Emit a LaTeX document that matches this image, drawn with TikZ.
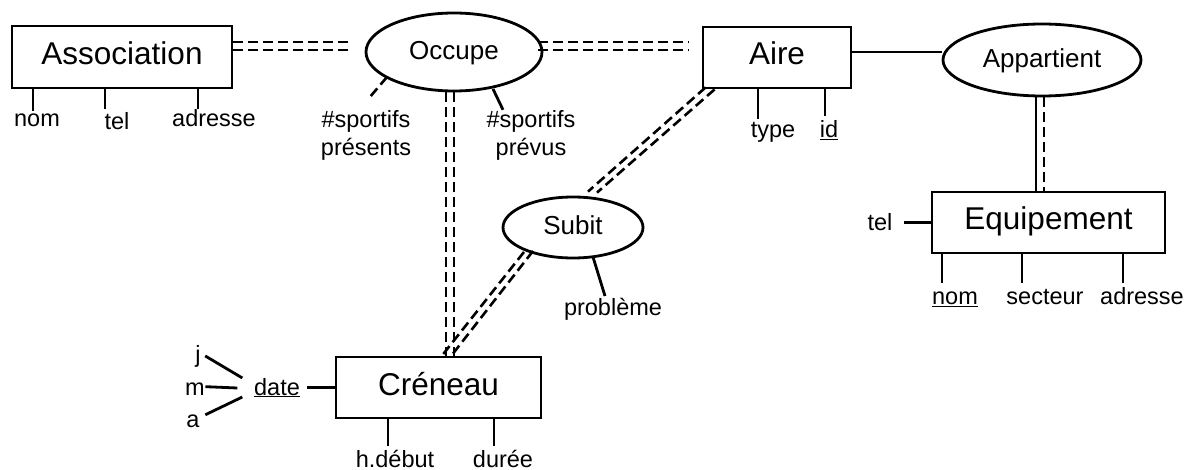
\documentclass[tikz,border=0pt]{standalone}
\usepackage{fontspec}
\setmainfont{Liberation Sans}
\usetikzlibrary{shapes.geometric,calc}
\begin{document}
\begin{tikzpicture}[x=1pt,y=-1pt,
  ln/.style={line width=2.8pt},
  dd/.style={line width=2.6pt, dash pattern=on 10pt off 5pt},
  entity/.style={draw, line width=2.8pt, rectangle, inner sep=0pt, font=\fontsize{31.5}{36}\selectfont, text height=23pt, text depth=8pt},
  rel/.style={draw, line width=2.8pt, ellipse, inner sep=0pt, font=\fontsize{26}{30}\selectfont, text height=18pt, text depth=3pt},
  attr/.style={inner sep=0pt, anchor=base, font=\fontsize{23.5}{28}\selectfont},
]
\useasboundingbox (0,0) rectangle (1188,470);

% entities and relations
\node[entity, minimum width=220pt, minimum height=62pt] (assoc) at (122,57) {Association};
\node[rel, minimum width=176pt, minimum height=78pt] (occ) at (454,52) {Occupe};
\node[entity, minimum width=148pt, minimum height=61pt] (aire) at (777,57.5) {Aire};
\node[rel, minimum width=198pt, minimum height=72pt] (app) at (1042,60) {Appartient};
\node[entity, minimum width=233pt, minimum height=61pt] (equip) at (1048.5,222.5) {Equipement};
\node[rel, minimum width=140pt, minimum height=61pt] (subit) at (573,227.5) {Subit};
\node[entity, minimum width=205pt, minimum height=61pt] (cren) at (438.5,387.5) {Créneau};

% attributes
\node[attr] (anom) at (37,127) {nom};
\node[attr] (atel) at (117,130) {tel};
\node[attr] (aadr) at (214,127) {adresse};
\node[attr] (spa) at (366,128) {\#sportifs};
\node[attr] (spa2) at (366,156) {présents};
\node[attr] (spb) at (531,128) {\#sportifs};
\node[attr] (spb2) at (531,156) {prévus};
\node[attr] (atype) at (773,138) {type};
\node[attr] (aid) at (829,138) {\underline{id}};
\node[attr] (pb) at (613,315) {problème};
\node[attr] (hdeb) at (395,467) {h.début};
\node[attr] (dur) at (503,467) {durée};
\node[attr] (adate) at (277,395) {\underline{date}};
\node[attr] (aj) at (198,362) {j};
\node[attr] (am) at (195,395) {m};
\node[attr] (aa) at (193,427) {a};
\node[attr] (etel) at (880,231) {tel};
\node[attr] (enom) at (955,305) {\underline{nom}};
\node[attr] (esect) at (1045,305) {secteur};
\node[attr] (eadr) at (1142,305) {adresse};

% relation links
\draw[dd] ($(assoc.east)+(0,-15)$) -- ($(occ.west)+(-14,-10)$);
\draw[dd] ($(assoc.east)+(0,-7)$) -- ($(occ.west)+(-14,-2)$);
\draw[dd] ($(occ.east)+(-5,-10)$) -- ($(aire.west)+(-13,-15.5)$);
\draw[dd] ($(occ.east)+(-5,-2)$) -- ($(aire.west)+(-13,-7.5)$);
\draw[dd] ($(occ.south)+(-8,0)$) -- ($(cren.north)+(7.5,0)$);
\draw[dd] ($(occ.south)+(0,0)$) -- ($(cren.north)+(15.5,0)$);
\draw[dd] ($(aire.south west)+(4,-2)$) -- ($(subit.north)+(15,-4)$);
\draw[dd] ($(aire.south west)+(13,0)$) -- ($(subit.north)+(24,-3)$);
\draw[dd] ($(subit.center)+(-49,24.5)$) -- ($(cren.north)+(3.5,0)$);
\draw[dd] ($(subit.center)+(-40,23.5)$) -- ($(cren.north)+(14.5,-2)$);
\draw[ln] ($(aire.east)+(0,-5.5)$) -- ($(app.west)+(0,-8)$);
\draw[ln] ($(app.south)+(-6,0)$) -- ($(equip.north)+(-12.5,0)$);
\draw[dd] ($(app.south)+(2,0)$) -- ($(equip.north)+(-4.5,0)$);

% attribute links
\draw[ln] ([xshift=-4pt]anom.base |- assoc.south) -- ++(0,22);
\draw[ln] ([xshift=-12pt]atel.base |- assoc.south) -- ++(0,20);
\draw[ln] ([xshift=-16pt]aadr.base |- assoc.south) -- ++(0,20);
\draw[dd] ($(occ.center)+(-67,25)$) -- ($(spa.north)+(2,-11.5)$);
\draw[ln] ($(occ.center)+(39,37)$) -- ($(spb.north)+(-28,-1)$);
\draw[ln] ([xshift=-15pt]atype.base |- aire.south) -- ++(0,30);
\draw[ln] ([xshift=-4pt]aid.base |- aire.south) -- ++(0,27);
\draw[ln] ($(subit.center)+(20,29.5)$) -- ($(pb.north)+(-8,-1.5)$);
\draw[ln] ([xshift=-7pt]hdeb.base |- cren.south) -- ++(0,27);
\draw[ln] ([xshift=-9pt]dur.base |- cren.south) -- ++(0,27);
\draw[ln] ([xshift=7pt]adate.east |- cren.west) -- (cren.west);
\draw[ln] ($(aj.east)+(4.4,0)$) -- ($(adate.west)+(-11.6,-9.6)$);
\draw[ln] ($(am.east)+(0.4,-2)$) -- ($(adate.west)+(-16.6,0.4)$);
\draw[ln] ($(aa.east)+(5.6,-6)$) -- ($(adate.west)+(-11.6,9.4)$);
\draw[ln] ([xshift=11pt]etel.east |- equip.west) -- (equip.west);
\draw[ln] ([xshift=-13pt]enom.base |- equip.south) -- ++(0,29);
\draw[ln] ([xshift=-23pt]esect.base |- equip.south) -- ++(0,29);
\draw[ln] ([xshift=-19pt]eadr.base |- equip.south) -- ++(0,29);
\end{tikzpicture}
\end{document}
